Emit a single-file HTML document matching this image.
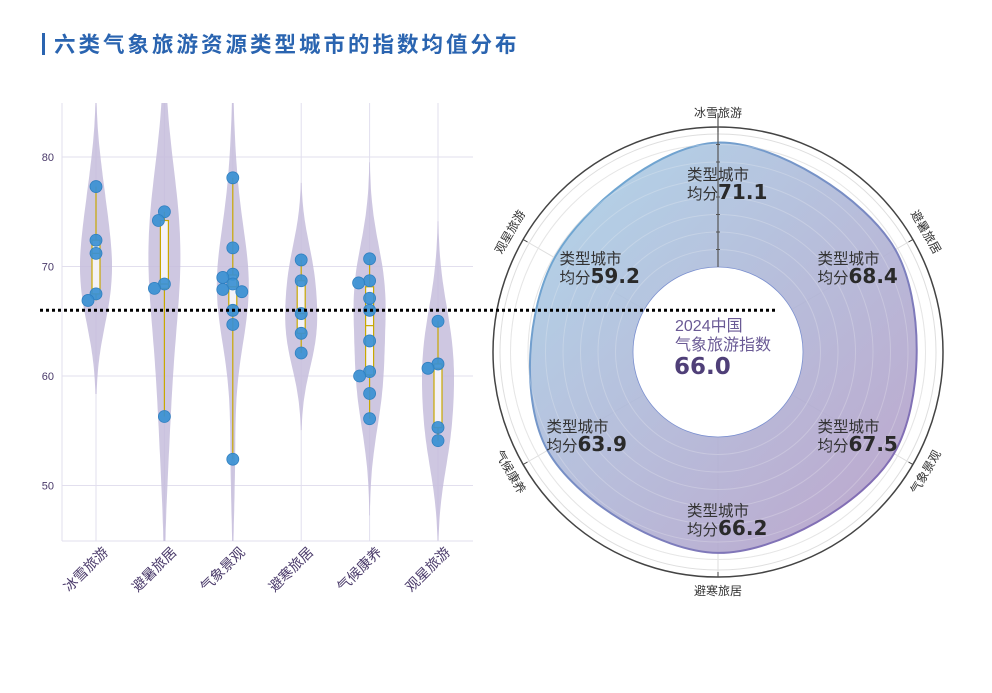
<!DOCTYPE html>
<html><head><meta charset="utf-8">
<style>
html,body{margin:0;padding:0;background:#fff;}
body{width:992px;height:688px;overflow:hidden;font-family:"Liberation Sans","Noto Sans CJK SC",sans-serif;}
svg text{font-family:"Liberation Sans","Noto Sans CJK SC",sans-serif;}
</style></head>
<body>
<svg id="chart" width="992" height="688" xmlns="http://www.w3.org/2000/svg">
<defs>
<linearGradient id="fillG" x1="0" y1="0" x2="1" y2="1">
<stop offset="0" stop-color="#a9d2e8"/><stop offset="1" stop-color="#b69bc6"/>
</linearGradient>
<linearGradient id="strokeG" x1="0" y1="0" x2="1" y2="1">
<stop offset="0" stop-color="#6bb3d8"/><stop offset="1" stop-color="#8662ae"/>
</linearGradient>
<clipPath id="plotClip"><rect x="62" y="103" width="411" height="438"/></clipPath>
</defs>
<rect x="42" y="33" width="3" height="22" fill="#2a64b0"/>
<text x="54" y="52" font-size="21.5" font-weight="bold" fill="#2a64b0" letter-spacing="3">六类气象旅游资源类型城市的指数均值分布</text>
<g id="left"></g>
<g id="polar"></g>
<g id="overlay"></g>
</svg>
<script>
const categories = ["冰雪旅游","避暑旅居","气象景观","避寒旅居","气候康养","观星旅游"];
const groupValues = [
  [77.3,72.4,71.2,67.5,66.9],
  [75.0,74.2,68.4,68.0,56.3],
  [78.1,71.7,69.3,69.0,68.4,67.9,67.7,66.0,64.7,52.4],
  [70.6,68.7,65.7,63.9,62.1],
  [70.7,68.7,68.5,67.1,66.0,63.2,60.4,60.0,58.4,56.1],
  [65.0,61.1,60.7,55.3,54.1]
];
const pointJitter = [
  [0,0,0,0,-8],
  [0,-6,0,-10,0],
  [0,0,0,-10,0,-10,9,0,0,0],
  [0,0,0,0,0],
  [0,0,-11,0,0,0,0,-10,0,0],
  [0,0,-10,0,0]
];
const yTicks = [50,60,70,80];
const radarValues = [71.1,68.4,67.5,66.2,63.9,59.2];
const radarCategories = ["冰雪旅游","避暑旅居","气象景观","避寒旅居","气候康养","观星旅游"];
const overallIndex = 66.0;

const NS="http://www.w3.org/2000/svg";
function mk(tag,attrs,parent){const e=document.createElementNS(NS,tag);for(const k in attrs)e.setAttribute(k,attrs[k]);parent.appendChild(e);return e;}

// ---------- left chart ----------
const L=document.getElementById('left');
const plotL=62,plotR=473,plotT=103,plotB=541;
function yS(v){return 157+(80-v)*10.95;}
function xS(i){return 96+i*68.4;}
yTicks.forEach(t=>{
  const g=mk('line',{x1:plotL,x2:plotR,y1:yS(t),y2:yS(t),stroke:'#e2dfee','stroke-width':1},L);
  
  const tx=mk('text',{x:54,y:yS(t)+4,'font-size':11,fill:'#4a3a6a','text-anchor':'end'},L);
  tx.textContent=t;
  
});
categories.forEach((c,i)=>{
  const g=mk('line',{x1:xS(i),x2:xS(i),y1:plotT,y2:plotB,stroke:'#e2dfee','stroke-width':1},L);
  
});
const ax=mk('line',{x1:plotL,x2:plotL,y1:plotT,y2:plotB,stroke:'#e2dfee'},L);

const bx=mk('line',{x1:plotL,x2:plotR,y1:plotB,y2:plotB,stroke:'#e2dfee'},L);


const vioLayer=mk('g',{'clip-path':'url(#plotClip)'},L);


function quant(arr,p){const s=[...arr].sort((a,b)=>a-b);const pos=(s.length-1)*p;const lo=Math.floor(pos),hi=Math.ceil(pos);return s[lo]+(s[hi]-s[lo])*(pos-lo);}
categories.forEach((c,i)=>{
  const vals=groupValues[i];
  const n=vals.length,mean=vals.reduce((a,b)=>a+b,0)/n;
  const sd=Math.sqrt(vals.reduce((a,b)=>a+(b-mean)*(b-mean),0)/(n-1));
  const bw=1.06*sd*Math.pow(n,-0.2)*1.15;
  const lo=Math.min(...vals)-2.3*bw,hi=Math.max(...vals)+2.3*bw;
  const pts=[];let maxd=0;
  for(let k=0;k<=80;k++){const v=lo+(hi-lo)*k/80;let d=0;vals.forEach(x=>{d+=Math.exp(-0.5*((v-x)/bw)**2);});pts.push([v,d]);if(d>maxd)maxd=d;}
  const hw=16;
  let dstr='';
  pts.forEach((p,k)=>{dstr+=(k?'L':'M')+(xS(i)+p[1]/maxd*hw).toFixed(1)+','+yS(p[0]).toFixed(1);});
  for(let k=pts.length-1;k>=0;k--){const p=pts[k];dstr+='L'+(xS(i)-p[1]/maxd*hw).toFixed(1)+','+yS(p[0]).toFixed(1);}
  const vio=mk('path',{d:dstr+'Z',fill:'#c5bddc','fill-opacity':0.85},vioLayer);
  
  const q1=quant(vals,0.25),q3=quant(vals,0.75),med=quant(vals,0.5);
  const wl=mk('line',{x1:xS(i),x2:xS(i),y1:yS(Math.max(...vals)),y2:yS(Math.min(...vals)),stroke:'#c8a800','stroke-width':1.2},L);
  
  const bxr=mk('rect',{x:xS(i)-4,y:yS(q3),width:8,height:yS(q1)-yS(q3),fill:'#f4f2f8',stroke:'#c8a800','stroke-width':1.2},L);
  
  const ml=mk('line',{x1:xS(i)-4,x2:xS(i)+4,y1:yS(med),y2:yS(med),stroke:'#c8a800','stroke-width':1.2},L);
  
  vals.forEach((v,k)=>{
    const cc=mk('circle',{cx:xS(i)+pointJitter[i][k],cy:yS(v),r:6,fill:'#3a90d2','fill-opacity':0.92,stroke:'#2f7fc0','stroke-width':0.8},L);
    
  });
  const tx=mk('text',{x:0,y:0,'font-size':14,fill:'#4a3a6a','text-anchor':'end',transform:`translate(${xS(i)+13},${plotB+12}) rotate(-45)`},L);
  tx.textContent=c;
  
});

// ---------- polar ----------
const P=document.getElementById('polar');
const cx=718,cy=352,R0=85,RMAX=80,ROUT=225;
function rS(v){return R0+v*(ROUT-R0)/RMAX;}
function pt(v,i){const th=i*Math.PI/3;return [cx+rS(v)*Math.sin(th),cy-rS(v)*Math.cos(th)];}
for(let g=10;g<=70;g+=10){
  const c=mk('circle',{cx,cy,r:rS(g),fill:'none',stroke:'#dedede','stroke-width':1},P);
  
}
const c77=mk('circle',{cx,cy,r:rS(76),fill:'none',stroke:'#dedede','stroke-width':1},P);

radarCategories.forEach((c,i)=>{
  const th=i*Math.PI/3;
  const l=mk('line',{x1:cx+R0*Math.sin(th),y1:cy-R0*Math.cos(th),x2:cx+ROUT*Math.sin(th),y2:cy-ROUT*Math.cos(th),stroke:'#dedede'},P);
  
});
const rp=radarValues.map((v,i)=>pt(v,i));
let d='M'+rp[0][0]+','+rp[0][1];
const N=rp.length,tens=1.0;
for(let i=0;i<N;i++){
  const p0=rp[(i-1+N)%N],p1=rp[i],p2=rp[(i+1)%N],p3=rp[(i+2)%N];
  const c1=[p1[0]+(p2[0]-p0[0])/6*tens,p1[1]+(p2[1]-p0[1])/6*tens];
  const c2=[p2[0]-(p3[0]-p1[0])/6*tens,p2[1]-(p3[1]-p1[1])/6*tens];
  d+=`C${c1[0].toFixed(1)},${c1[1].toFixed(1)} ${c2[0].toFixed(1)},${c2[1].toFixed(1)} ${p2[0].toFixed(1)},${p2[1].toFixed(1)}`;
}
d+='Z';
const hole=`M${cx+R0},${cy}A${R0},${R0} 0 1 0 ${cx-R0},${cy}A${R0},${R0} 0 1 0 ${cx+R0},${cy}Z`;
const area=mk('path',{d:d+hole,'fill-rule':'evenodd',fill:'url(#fillG)','fill-opacity':0.9,stroke:'none'},P);

const edge=mk('path',{d:d,fill:'none',stroke:'url(#strokeG)','stroke-width':2},P);

const holeC=mk('circle',{cx,cy,r:R0,fill:'#fff',stroke:'#7a8fcf','stroke-width':0.8},P);

for(let g=10;g<=70;g+=10){
  const c=mk('circle',{cx,cy,r:rS(g),fill:'none',stroke:'#ffffff','stroke-opacity':0.25,'stroke-width':1},P);
  
}
const outer=mk('circle',{cx,cy,r:ROUT,fill:'none',stroke:'#444','stroke-width':1.5},P);

const rax=mk('line',{x1:cx,y1:cy-R0,x2:cx,y2:cy-ROUT-14,stroke:'#555','stroke-width':1.2},P);

for(let g=10;g<=80;g+=10){
  const t=mk('line',{x1:cx-2,x2:cx+2,y1:cy-rS(g),y2:cy-rS(g),stroke:'#555'},P);
  
}
const labelDx=[0,-15,-15,0,5,18];
radarCategories.forEach((c,i)=>{
  const thd=i*60,th=thd*Math.PI/180;
  const t=mk('line',{x1:cx+ROUT*Math.sin(th),y1:cy-ROUT*Math.cos(th),x2:cx+(ROUT-5)*Math.sin(th),y2:cy-(ROUT-5)*Math.cos(th),stroke:'#444'},P);
  
  const lr=ROUT+14+(i%3===0?0:1);
  const lx=cx+lr*Math.sin(th),ly=cy-lr*Math.cos(th);
  let rot=thd;if(thd>90&&thd<270)rot=thd-180;if(thd>=270)rot=thd-360;
  const tx=mk('text',{x:0,y:4,'font-size':12,fill:'#333','text-anchor':'middle',transform:`translate(${lx.toFixed(1)},${ly.toFixed(1)}) rotate(${rot})`},P);
  tx.textContent=c;
  
  const lr2=168;
  const ax2=cx+lr2*Math.sin(th)+labelDx[i],ay2=cy-lr2*Math.cos(th);
  const t1=mk('text',{x:ax2-31,y:ay2-4,'font-size':15.5,fill:'#333'},P);
  t1.textContent='类型城市';
  
  const t2=mk('text',{x:ax2-31,y:ay2+15,'font-size':15.5,fill:'#333'},P);
  
  const s1=mk('tspan',{},t2);s1.textContent='均分';
  const s2=mk('tspan',{'font-size':20,'font-weight':'bold',fill:'#2a2a2a',style:'font-family:"DejaVu Sans",sans-serif'},t2);s2.textContent=radarValues[i].toFixed(1);
});
const ct1=mk('text',{x:675,y:331,'font-size':16,fill:'#6a5a95'},P);ct1.textContent='2024中国';

const ct2=mk('text',{x:675,y:350,'font-size':16,fill:'#6a5a95'},P);ct2.textContent='气象旅游指数';

const ct3=mk('text',{x:674,y:374,'font-size':23,'font-weight':'bold',fill:'#4f3f78',style:'font-family:"DejaVu Sans",sans-serif'},P);ct3.textContent=overallIndex.toFixed(1);


// ---------- overlay dotted reference line ----------
const O=document.getElementById('overlay');
const ref=mk('line',{x1:40,x2:778,y1:yS(overallIndex),y2:yS(overallIndex),stroke:'#000','stroke-width':3,'stroke-dasharray':'3,3'},O);

</script>
</body></html>
